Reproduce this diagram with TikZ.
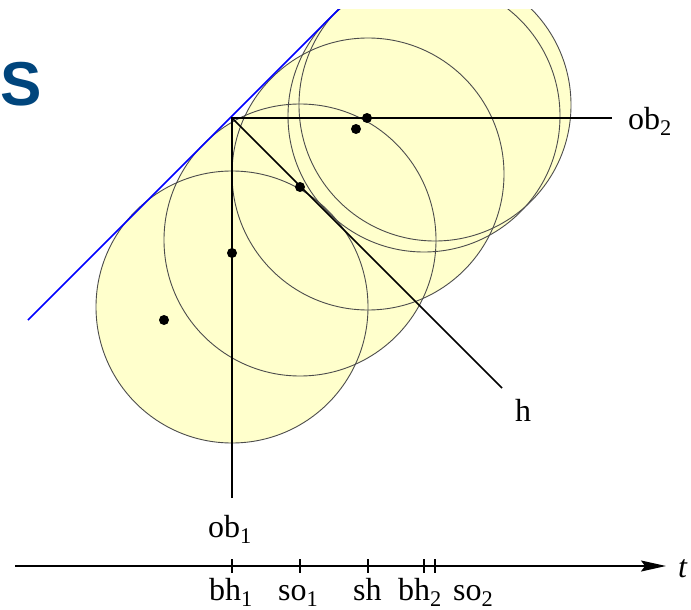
\documentclass[tikz,border=0pt]{standalone}
\usepackage{fontspec}
\setmainfont{Liberation Serif}
\newfontfamily\slidefont{Liberation Sans}
\usetikzlibrary{arrows.meta,positioning,calc}
\definecolor{titleblue}{RGB}{0,69,124}
\definecolor{ballfill}{RGB}{255,255,204}

\begin{document}
\begin{tikzpicture}[x=1pt,y=-1pt,
  ball/.style={draw=black!70,line width=0.9pt},
  ray/.style={line width=1.6pt},
  dot/.style={fill=black},
  lbl/.style={inner sep=0pt,font=\fontsize{32}{38}\selectfont}]
\useasboundingbox (0,0) rectangle (691,610);
% centres of the balls
\coordinate (c1) at (232,307);
\coordinate (c2) at (300,240);
\coordinate (c3) at (368,174);
\coordinate (c4) at (424,116);
\coordinate (c5) at (435,105);
% rays
\coordinate (o) at (232,118);
\coordinate (ob1end) at (232,498);
\coordinate (ob2end) at (612,118);
\coordinate (hend) at (502,388);
% time axis
\coordinate (tstart) at (15,566);
\coordinate (tend) at (666,566);
% tangent
\coordinate (tan1) at (28,320);
\coordinate (tan2) at (358,-10);

\node[anchor=base west,inner sep=0pt,text=titleblue,font=\slidefont\bfseries\fontsize{62}{70}\selectfont] (title) at (0,105) {S};

\begin{scope}
\clip (0,10) rectangle (691,610);
\foreach \c in {c1,c2,c3,c4,c5} \fill[ballfill] (\c) circle[radius=136pt];
\foreach \c in {c1,c2,c3,c4,c5} \draw[ball] (\c) circle[radius=136pt];
\draw[blue,line width=1.6pt] (tan1) -- (tan2);
\end{scope}

\draw[ray] (ob1end) -- (o) -- (ob2end);
\draw[ray] (o) -- (hend);
\foreach \c in {c1,c2,c3,c4,c5} \fill[dot] ($(\c)+(-68,13)$) circle[radius=5pt];

\node[lbl,anchor=base west] (ob1) at (208,537) {ob\textsubscript{1}};
\node[lbl,anchor=base west] (ob2) at (628,129) {ob\textsubscript{2}};
\node[lbl,anchor=base west] (h) at (515,421) {h};

\draw[ray,-{Stealth[length=25pt,width=11pt,inset=4pt]}] (tstart) -- (tend);
\foreach \c in {c1,c2,c3,c4,c5} \draw[line width=2pt] ($(\c|-tstart)+(0,-7)$) -- ++(0,14);
\node[lbl,anchor=base west] (t) at (678,577) {\textit{t}};
\node[lbl,anchor=base west] (bh1) at (209,600) {bh\textsubscript{1}};
\node[lbl,anchor=base west] (so1) at (278,600) {so\textsubscript{1}};
\node[lbl,anchor=base west] (sh) at (353,600) {sh};
\node[lbl,anchor=base west] (bh2) at (398,600) {bh\textsubscript{2}};
\node[lbl,anchor=base west] (so2) at (453,600) {so\textsubscript{2}};
\end{tikzpicture}
\end{document}
